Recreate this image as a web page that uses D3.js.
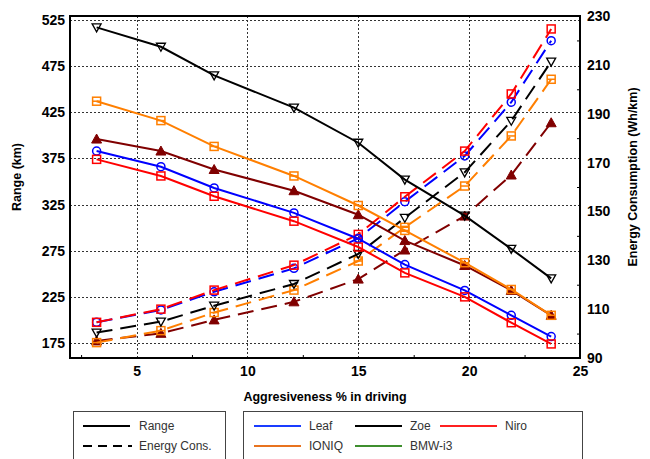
<!DOCTYPE html>
<html>
<head>
<meta charset="utf-8">
<script src="https://cdn.jsdelivr.net/npm/d3@7"></script>
<style>
  body { margin: 0; background: #fff; }
  svg { display: block; }
</style>
</head>
<body>
<div id="chart"></div>
<script>
// aggressiveness levels (%)
const aggressiveness = [3.2, 6.1, 8.5, 12.1, 15, 17.1, 19.8, 21.9, 23.7];

// range (km), left axis
const rangeLeaf = [383, 366, 343, 316, 288, 260, 232, 205, 182];
const rangeZoe = [517, 496, 465, 430, 392, 352, 313, 277, 245];
const rangeNiro = [374, 356, 334, 307, 279, 251, 225, 197, 174];
const rangeIoniq = [437, 416, 388, 356, 324, 297, 262, 233, 205];
const rangeBmw = [396, 383, 363, 340, 314, 286, 259, 232, 205];

// energy consumption (Wh/km), right axis
const energyLeaf = [104.6, 109.7, 117.1, 126.7, 139, 154, 172.7, 194.7, 219.9];
const energyZoe = [100.4, 104.9, 111.4, 120.3, 132.6, 147.4, 166, 187.1, 211.3];
const energyNiro = [104.6, 110, 117.8, 128, 140.6, 156, 174.7, 198.1, 224.7];
const energyIoniq = [96.3, 101.2, 108.6, 117.8, 129.7, 143.5, 160.4, 180.9, 204.1];
const energyBmw = [97, 100.1, 105.6, 113, 122.3, 134.2, 148.1, 164.9, 186.3];

const xTicks = [5, 10, 15, 20, 25];
const leftTicks = [175, 225, 275, 325, 375, 425, 475, 525];
const rightTicks = [90, 110, 130, 150, 170, 190, 210, 230];

const width = 650;
const height = 459;
const plotLeft = 70, plotRight = 580, plotTop = 16, plotBottom = 358;

const svg = d3.select('#chart').append('svg')
    .attr('width', width)
    .attr('height', height)
    .style('font-family', '"Liberation Sans", Arial, sans-serif');

const x = d3.scaleLinear().domain([2, 25]).range([plotLeft, plotRight]);
const yRange = d3.scaleLinear().domain([158.75, 529.33]).range([plotBottom, plotTop]);
const yEnergy = d3.scaleLinear().domain([90, 230]).range([plotBottom, plotTop]);

// grid
const grid = svg.append('g')
    .attr('stroke', '#333')
    .attr('stroke-width', 1)
    .attr('stroke-dasharray', '2,2');

grid.selectAll('.hgrid')
    .data(leftTicks)
    .join('line')
    .attr('x1', plotLeft).attr('x2', plotRight)
    .attr('y1', d => Math.round(yRange(d)) + 0.5)
    .attr('y2', d => Math.round(yRange(d)) + 0.5);

grid.selectAll('.vgrid')
    .data(xTicks.filter(d => d < 25))
    .join('line')
    .attr('y1', plotTop).attr('y2', plotBottom)
    .attr('x1', d => Math.round(x(d)) + 0.5)
    .attr('x2', d => Math.round(x(d)) + 0.5);

// axes
const xAxis = svg.append('g')
    .attr('transform', `translate(0,${plotBottom})`)
    .call(d3.axisBottom(x).tickValues(xTicks).tickSize(0).tickPadding(8).tickFormat(d3.format('d')));

const xMinor = svg.append('g')
    .attr('transform', `translate(0,${plotBottom})`)
    .call(d3.axisBottom(x).tickValues([2.5, 7.5, 12.5, 17.5, 22.5]).tickSize(-3).tickFormat(''));

const yLeftAxis = svg.append('g')
    .attr('transform', `translate(${plotLeft},0)`)
    .call(d3.axisLeft(yRange).tickValues(leftTicks).tickSize(0).tickPadding(5));

const yRightAxis = svg.append('g')
    .attr('transform', `translate(${plotRight},0)`)
    .call(d3.axisRight(yEnergy).tickValues(rightTicks).tickSize(0).tickPadding(7));

const yRightMinor = svg.append('g')
    .attr('transform', `translate(${plotRight},0)`)
    .call(d3.axisRight(yEnergy).tickValues([100, 120, 140, 160, 180, 200, 220]).tickSize(-3).tickFormat(''));

[xAxis, yLeftAxis, yRightAxis].forEach(a => {
    a.select('.domain').remove();
    a.selectAll('text')
        .attr('fill', '#000')
        .attr('font-size', 14)
        .attr('font-weight', 'bold')
        .attr('font-family', '"Liberation Sans", Arial, sans-serif');
});
[xMinor, yRightMinor].forEach(a => {
    a.select('.domain').remove();
    a.selectAll('line').attr('stroke', '#000');
});

// frame
svg.append('rect')
    .attr('x', plotLeft).attr('y', plotTop)
    .attr('width', plotRight - plotLeft).attr('height', plotBottom - plotTop)
    .attr('fill', 'none')
    .attr('stroke', '#000')
    .attr('stroke-width', 2);

// axis titles
svg.append('text')
    .attr('transform', 'translate(21,177) rotate(-90)')
    .attr('text-anchor', 'middle')
    .attr('font-size', 12.5)
    .attr('font-weight', 'bold')
    .text('Range (km)');

svg.append('text')
    .attr('transform', 'translate(637,177) rotate(-90)')
    .attr('text-anchor', 'middle')
    .attr('font-size', 12.5)
    .attr('font-weight', 'bold')
    .text('Energy Consumption (Wh/km)');

svg.append('text')
    .attr('x', 325)
    .attr('y', 401)
    .attr('text-anchor', 'middle')
    .attr('font-size', 12.5)
    .attr('font-weight', 'bold')
    .text('Aggresiveness % in driving');

// series
const cars = [
    {name: 'Leaf', color: '#0000ff', marker: 'circle', range: rangeLeaf, energy: energyLeaf},
    {name: 'Zoe', color: '#000000', marker: 'down', range: rangeZoe, energy: energyZoe},
    {name: 'Niro', color: '#ff0000', marker: 'square', range: rangeNiro, energy: energyNiro},
    {name: 'IONIQ', color: '#ff7f00', marker: 'squarebar', range: rangeIoniq, energy: energyIoniq},
    {name: 'BMW-i3', color: '#800000', marker: 'up', range: rangeBmw, energy: energyBmw},
];

const drawOrder = [cars[4], cars[3], cars[1], cars[0], cars[2]];

function drawMarkers(g, car, pts) {
    const m = g.append('g');
    pts.forEach(p => {
        const t = `translate(${p[0]},${p[1]})`;
        if (car.marker === 'circle') {
            m.append('circle').attr('cx', p[0]).attr('cy', p[1]).attr('r', 4)
                .attr('fill', 'none').attr('stroke', car.color).attr('stroke-width', 1.5);
        } else if (car.marker === 'square' || car.marker === 'squarebar') {
            m.append('rect').attr('x', p[0] - 4).attr('y', p[1] - 4).attr('width', 8).attr('height', 8)
                .attr('fill', 'none').attr('stroke', car.color).attr('stroke-width', 1.5);
            if (car.marker === 'squarebar') {
                m.append('line').attr('x1', p[0] - 4).attr('x2', p[0] + 4)
                    .attr('y1', p[1]).attr('y2', p[1])
                    .attr('stroke', car.color).attr('stroke-width', 1.5);
            }
        } else if (car.marker === 'down') {
            m.append('path').attr('transform', t)
                .attr('d', 'M-4.5,-3.5 L4.5,-3.5 L0,4.5 Z')
                .attr('fill', 'none').attr('stroke', car.color).attr('stroke-width', 1.3);
        } else if (car.marker === 'up') {
            m.append('path').attr('transform', t)
                .attr('d', 'M-5,4 L5,4 L0,-5 Z')
                .attr('fill', car.color).attr('stroke', car.color).attr('stroke-width', 1);
        }
    });
}

const line = d3.line();

// energy consumption (dashed)
drawOrder.forEach(car => {
    const pts = aggressiveness.map((a, i) => [x(a), yEnergy(car.energy[i])]);
    const g = svg.append('g');
    g.append('path')
        .attr('d', line(pts))
        .attr('fill', 'none')
        .attr('stroke', car.color)
        .attr('stroke-width', 2)
        .attr('stroke-dasharray', '16,8');
    drawMarkers(g, car, pts);
});

// range (solid)
drawOrder.forEach(car => {
    const pts = aggressiveness.map((a, i) => [x(a), yRange(car.range[i])]);
    const g = svg.append('g');
    g.append('path')
        .attr('d', line(pts))
        .attr('fill', 'none')
        .attr('stroke', car.color)
        .attr('stroke-width', 2);
    drawMarkers(g, car, pts);
});

// legends
const legendFont = 12;
const lg = svg.append('g').attr('font-size', legendFont).attr('fill', '#333');

lg.append('rect')
    .attr('x', 73.5).attr('y', 411.5).attr('width', 152).attr('height', 60)
    .attr('fill', 'none').attr('stroke', '#444').attr('stroke-width', 1);

lg.append('line').attr('x1', 83).attr('x2', 130).attr('y1', 426).attr('y2', 426)
    .attr('stroke', '#000').attr('stroke-width', 2);
lg.append('text').attr('x', 139).attr('y', 430).text('Range');
lg.append('line').attr('x1', 83).attr('x2', 132).attr('y1', 446).attr('y2', 446)
    .attr('stroke', '#000').attr('stroke-width', 2).attr('stroke-dasharray', '9,6');
lg.append('text').attr('x', 139).attr('y', 450).text('Energy Cons.');

lg.append('rect')
    .attr('x', 243.5).attr('y', 411.5).attr('width', 339).attr('height', 60)
    .attr('fill', 'none').attr('stroke', '#444').attr('stroke-width', 1);

const legendItems = [
    {name: 'Leaf', color: '#1a3cff', x: 254, y: 426},
    {name: 'Zoe', color: '#000000', x: 355, y: 426},
    {name: 'Niro', color: '#ff2020', x: 440, y: 426, len: 57},
    {name: 'IONIQ', color: '#e8731f', x: 254, y: 446},
    {name: 'BMW-i3', color: '#3f8f2f', x: 355, y: 446},
];

legendItems.forEach(d => {
    const len = d.len || 47;
    lg.append('line').attr('x1', d.x).attr('x2', d.x + len).attr('y1', d.y).attr('y2', d.y)
        .attr('stroke', d.color).attr('stroke-width', 2);
    lg.append('text').attr('x', d.x + len + 8).attr('y', d.y + 4).text(d.name);
});
</script>
</body>
</html>
